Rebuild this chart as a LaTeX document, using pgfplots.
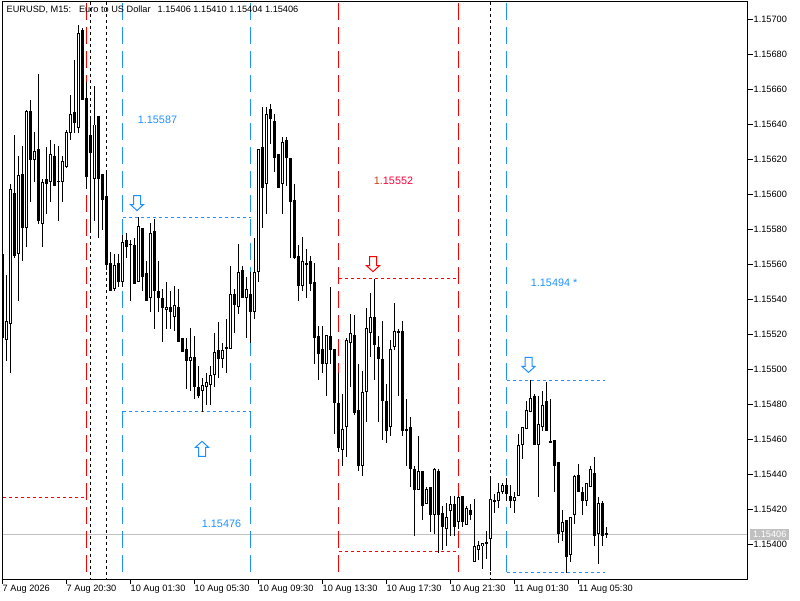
\documentclass[border=0pt]{standalone}
\usepackage{fontspec}
\setmainfont{Liberation Sans}
\usepackage{pgfplots}
\usepackage{pgfplotstable}
\pgfplotsset{compat=1.18}
\definecolor{mtblue}{HTML}{1E90FF}
\definecolor{mtred}{HTML}{FF0000}
\definecolor{mtpink}{HTML}{FF0038}
\definecolor{mtrust}{HTML}{C8400F}
\definecolor{bidgrey}{HTML}{C0C0C0}
\newcommand{\mtfont}{\fontsize{9.2}{10}\selectfont}
\newcommand{\objfont}{\fontsize{10.8}{12}\selectfont}

% hollow block arrows
\pgfdeclareplotmark{holdown}{\path[draw,fill=white] (-3.5pt,7.5pt)--(3.5pt,7.5pt)--(3.5pt,-1.5pt)--(6.5pt,-1.5pt)--(0pt,-7.5pt)--(-6.5pt,-1.5pt)--(-3.5pt,-1.5pt)--cycle;}
\pgfdeclareplotmark{holup}{\path[draw,fill=white] (-3.5pt,-7.5pt)--(3.5pt,-7.5pt)--(3.5pt,1.5pt)--(6.5pt,1.5pt)--(0pt,7.5pt)--(-6.5pt,1.5pt)--(-3.5pt,1.5pt)--cycle;}

% M15 candles, quotes in points above 1.15000
\pgfplotstableread{
k o h l c
0 566 566 517 518
1 517 554 505 528
2 526 606 498 603
3 601 634 564 565
4 566 622 539 611
5 612 628 562 581
6 581 648 570 648
7 648 654 596 620
8 620 636 607 625
9 626 669 583 585
10 583 609 570 607
11 609 627 589 606
12 607 631 596 623
13 622 629 605 605
14 608 628 585 607
15 607 622 596 619
16 616 637 615 636
17 635 657 631 646
18 647 677 635 641
19 638 697 635 692
20 694 695 654 654
21 655 664 603 610
22 634 644 578 624
23 609 662 585 640
24 645 645 575 609
25 612 612 580 597
26 599 614 557 560
27 561 567 545 545
28 546 566 545 560
29 561 566 547 550
30 550 577 547 573
31 574 578 564 570
32 571 574 539 572
33 571 575 549 549
34 550 587 550 582
35 581 581 545 553
36 555 562 539 539
37 541 584 533 578
38 579 586 523 545
39 545 562 533 541
40 541 546 516 535
41 534 550 523 536
42 536 545 523 533
43 530 548 522 537
44 536 546 516 516
45 518 518 510 510
46 512 518 489 505
47 505 524 488 507
48 507 519 483 490
49 490 502 484 485
50 488 495 476 491
51 490 498 480 493
52 491 502 480 497
53 497 521 490 510
54 511 527 495 506
55 506 515 501 511
56 512 529 498 513
57 512 559 512 543
58 543 546 521 537
59 536 572 532 556
60 557 559 541 541
61 541 553 518 546
62 543 556 515 533
63 533 575 529 556
64 556 626 550 626
65 627 650 581 604
66 606 650 589 646
67 649 652 629 643
68 642 646 613 621
69 623 623 604 604
70 606 633 589 630
71 631 633 605 621
72 621 621 564 596
73 597 606 563 564
74 565 571 539 548
75 548 576 545 562
76 561 569 541 560
77 562 565 545 549
78 550 561 503 518
79 519 525 494 509
80 512 525 498 503
81 503 520 485 520
82 519 547 503 511
83 512 512 463 481
84 481 498 453 455
85 454 486 445 466
86 467 518 450 517
87 515 532 490 521
88 520 531 474 475
89 477 503 442 445
90 445 499 439 487
91 487 535 470 524
92 521 544 507 530
93 530 552 494 514
94 513 519 470 506
95 506 528 460 482
96 482 492 458 465
97 467 517 462 512
98 513 538 511 522
99 522 523 485 521
100 522 528 462 465
101 466 483 445 465
102 467 473 433 443
103 443 445 405 431
104 431 462 431 442
105 442 442 414 422
106 423 433 423 432
107 433 433 407 417
108 417 444 406 443
109 442 443 395 417
110 418 422 397 410
111 409 424 399 416
112 419 428 405 423
113 423 428 405 410
114 413 428 409 427
115 428 428 410 413
116 411 422 411 421
117 420 423 414 417
118 390 426 390 399
119 397 402 391 400
120 399 401 386 401
121 401 408 392 401
122 403 438 385 426
123 425 429 418 425
124 425 435 421 430
125 430 435 429 434
126 434 438 425 429
127 428 434 421 425
128 425 430 418 427
129 428 463 428 457
130 457 467 449 467
131 466 482 466 477
132 476 494 476 484
133 485 486 457 457
134 457 485 427 469
135 467 488 465 480
136 482 493 465 465
137 458 483 458 459
138 460 460 430 445
139 447 447 401 406
140 407 420 402 413
141 414 414 384 393
142 394 416 390 416
143 417 440 412 439
144 440 446 430 430
145 430 433 417 425
146 425 435 422 435
147 433 445 433 443
148 441 450 399 405
149 406 427 389 424
150 424 425 399 405
151 406 410 404 406
}\candles

\begin{document}
\begin{tikzpicture}
\useasboundingbox (0pt,0pt) rectangle (800pt,600pt);
\begin{axis}[
    at={(2.5pt,21pt)}, anchor=south west,
    scale only axis, width=745pt, height=577pt,
    xmin=0, xmax=186.25,
    ymin=380.29, ymax=710,
    axis on top,
    axis line style={line width=1pt},
    tick align=outside,
    major tick length=5pt,
    tick style={black,line width=1pt},
    xtick pos=bottom, ytick pos=right,
    xtick={0,16,...,144},
    xticklabels={7 Aug 2026,7 Aug 20:30,10 Aug 01:30,10 Aug 05:30,10 Aug 09:30,10 Aug 13:30,10 Aug 17:30,10 Aug 21:30,11 Aug 01:30,11 Aug 05:30},
    ytick={400,420,...,700},
    yticklabels={1.15400,1.15420,1.15440,1.15460,1.15480,1.15500,1.15520,1.15540,1.15560,1.15580,1.15600,1.15620,1.15640,1.15660,1.15680,1.15700},
    x tick label style={font=\mtfont,anchor=north west,inner xsep=0pt,inner ysep=1pt},
    y tick label style={font=\mtfont,anchor=west,inner xsep=1pt},
]
% bid line
\addplot[bidgrey,line width=1pt] coordinates {(0,406)(186.25,406)};

% vertical object lines
\addplot[mtred,line width=1.2pt,dash pattern=on 17pt off 7pt] coordinates {(21,709.43)(21,383.71)};
\addplot[mtred,line width=1.2pt,dash pattern=on 17pt off 7pt] coordinates {(84,709.43)(84,383.71)};
\addplot[mtred,line width=1.2pt,dash pattern=on 17pt off 7pt] coordinates {(114,709.43)(114,383.71)};
\addplot[mtblue,line width=1.2pt,dash pattern=on 17pt off 7pt] coordinates {(30,709.43)(30,383.71)};
\addplot[mtblue,line width=1.2pt,dash pattern=on 17pt off 7pt] coordinates {(62,709.43)(62,383.71)};
\addplot[mtblue,line width=1.2pt,dash pattern=on 17pt off 7pt] coordinates {(126,709.43)(126,383.71)};
\addplot[black,line width=1pt,dash pattern=on 3pt off 3pt] coordinates {(22,710)(22,380.29)};
\addplot[black,line width=1pt,dash pattern=on 3pt off 3pt] coordinates {(26,710)(26,380.29)};
\addplot[black,line width=1pt,dash pattern=on 3pt off 3pt] coordinates {(122,710)(122,380.29)};

% horizontal object lines
\addplot[mtblue,line width=1pt,dash pattern=on 3pt off 3pt] coordinates {(30,587)(62,587)};
\addplot[mtblue,line width=1pt,dash pattern=on 3pt off 3pt] coordinates {(30,476)(62,476)};
\addplot[mtblue,line width=1pt,dash pattern=on 3pt off 3pt] coordinates {(126,494)(150.5,494)};
\addplot[mtblue,line width=1pt,dash pattern=on 3pt off 3pt] coordinates {(126,384)(150.5,384)};
\addplot[mtred,line width=1pt,dash pattern=on 3pt off 3pt] coordinates {(84,552)(114,552)};
\addplot[mtred,line width=1pt,dash pattern=on 3pt off 3pt] coordinates {(84,396)(114,396)};
\addplot[mtred,line width=1pt,dash pattern=on 3pt off 3pt] coordinates {(0,427)(21,427)};

% wicks
\addplot[draw=none,mark=none,error bars/.cd,y dir=both,y explicit,error mark=none,
    error bar style={draw=black,line width=1pt}]
    table[x=k,y expr=(\thisrow{h}+\thisrow{l})/2,y error expr=(\thisrow{h}-\thisrow{l})/2] {\candles};
% bodies, black block
\addplot[draw=none,mark=none,error bars/.cd,y dir=both,y explicit,error mark=none,
    error bar style={draw=black,line width=3pt}]
    table[x=k,y expr=(\thisrow{o}+\thisrow{c})/2,y error expr={max(abs(\thisrow{o}-\thisrow{c})/2,0.3)}] {\candles};
% rising bodies hollowed out
\addplot[draw=none,mark=none,restrict expr to domain={\thisrow{c}-\thisrow{o}}{2:1000},
    error bars/.cd,y dir=both,y explicit,error mark=none,
    error bar style={draw=white,line width=1pt}]
    table[x=k,y expr=(\thisrow{o}+\thisrow{c})/2,y error expr={abs(\thisrow{o}-\thisrow{c})/2-0.57}] {\candles};

% arrows
\addplot[only marks,mark=holdown,mark options={draw=mtblue,line width=1pt}] coordinates {(33.625,595.1)(131.5,502.6)};
\addplot[only marks,mark=holup,mark options={draw=mtblue,line width=1pt}] coordinates {(49.875,454.7)};
\addplot[only marks,mark=holdown,mark options={draw=mtred,line width=1pt}] coordinates {(92.625,560.2)};

% object labels
\node[font=\objfont,text=mtblue] at (axis cs:38.75,642.9) {1.15587};
\node[font=\objfont,text=mtblue] at (axis cs:54.75,412) {1.15476};
\node[font=\objfont,text=mtblue] at (axis cs:137.9,549.7) {1.15494 *};
\node[font=\objfont,text=mtpink] at (axis cs:97.75,608) {\textcolor{mtrust}{1.}15552};
\end{axis}
% header and bid tag sit in page coordinates
\node[font=\mtfont,anchor=west,inner sep=0pt] at (6.5pt,590.5pt) {EURUSD, M15:\hspace{8pt}Euro to US Dollar\hspace{7pt}1.15406 1.15410 1.15404 1.15406};
\fill[bidgrey] (750pt,60pt) rectangle (789pt,71pt);
\node[font=\mtfont,text=white,anchor=west,inner sep=0pt] at (753pt,65.5pt) {1.15406};
\end{tikzpicture}
\end{document}
